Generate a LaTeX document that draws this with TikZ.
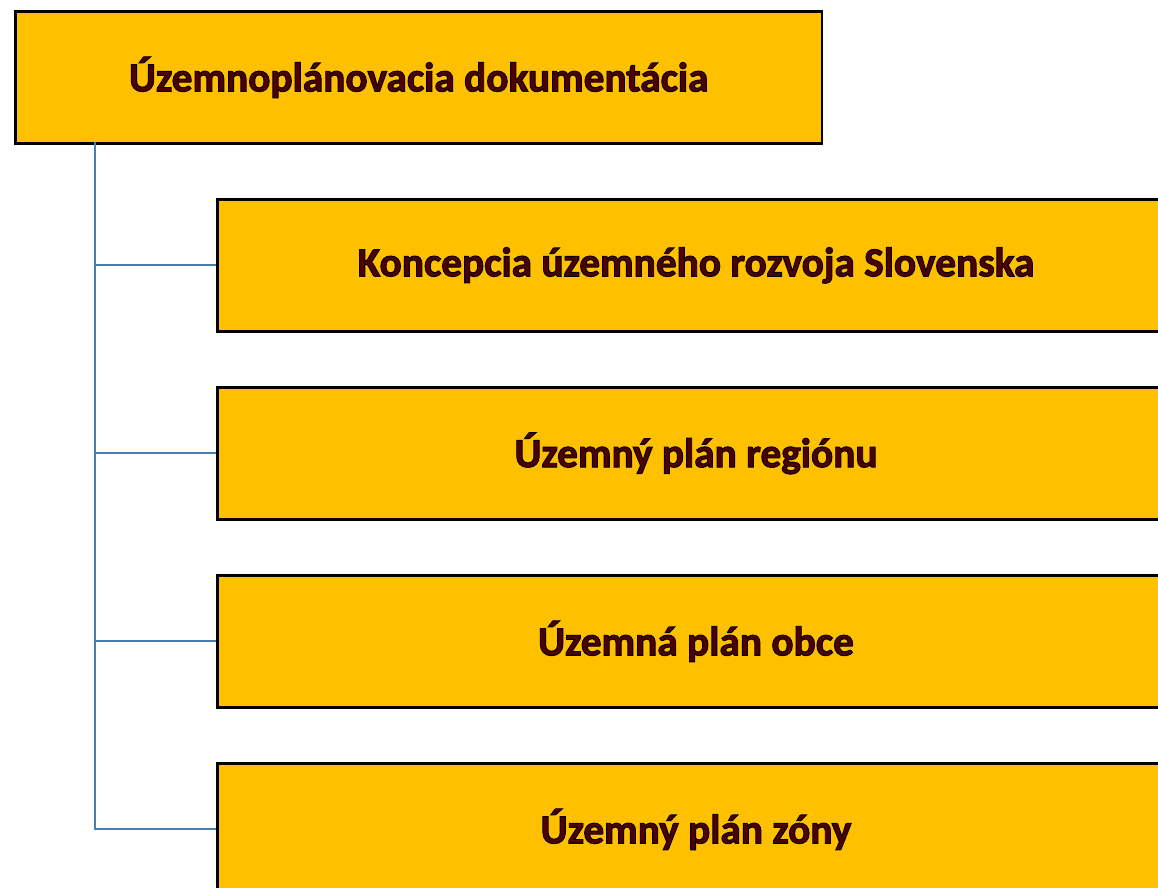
\documentclass[tikz,border=0pt]{standalone}
\usepackage{fontspec}
\setmainfont{Carlito}
\usetikzlibrary{positioning,calc}
\definecolor{PlanGold}{RGB}{255,192,0}
\definecolor{LinkBlue}{RGB}{74,126,177}
\definecolor{TextRed}{RGB}{80,0,0}
% outlined bold text, as in the original
\newcommand{\rimtext}[1]{\special{pdf:literal direct 2 Tr 0.7 w 0 0 0 RG}#1\special{pdf:literal direct 0 Tr}}
\tikzset{
  rootbox/.style={draw=black, fill=PlanGold, line width=2pt,
    minimum width=605pt, minimum height=99pt, inner sep=0pt,
    font=\fontsize{31}{36}\selectfont\bfseries, text=TextRed},
  levelbox/.style={draw=black, fill=PlanGold, line width=2pt,
    minimum width=718pt, minimum height=99pt, inner sep=0pt,
    font=\fontsize{31}{36}\selectfont\bfseries, text=TextRed},
  link/.style={LinkBlue, line width=1.6pt}
}
\begin{document}
\begin{tikzpicture}[x=0.75pt, y=-0.75pt]
  \useasboundingbox (0,0) rectangle (1158,888);

  \node[rootbox, anchor=north west] (udoc) at (14,10)
    {\rimtext{Územnoplánovacia dokumentácia}};

  \node[levelbox, anchor=north west] (kurs) at (216,198)
    {\rimtext{Koncepcia územného rozvoja Slovenska}};
  \node[levelbox, below=40pt of kurs] (upr) {\rimtext{Územný plán regiónu}};
  \node[levelbox, below=40pt of upr] (upo) {\rimtext{Územná plán obce}};
  \node[levelbox, below=40pt of upo] (upz) {\rimtext{Územný plán zóny}};

  % tree connectors
  \coordinate (trunk) at (95,142);
  \draw[link] (trunk) |- (kurs.west);
  \draw[link] (trunk) |- (upr.west);
  \draw[link] (trunk) |- (upo.west);
  \draw[link] (trunk) |- (upz.west);
\end{tikzpicture}
\end{document}
